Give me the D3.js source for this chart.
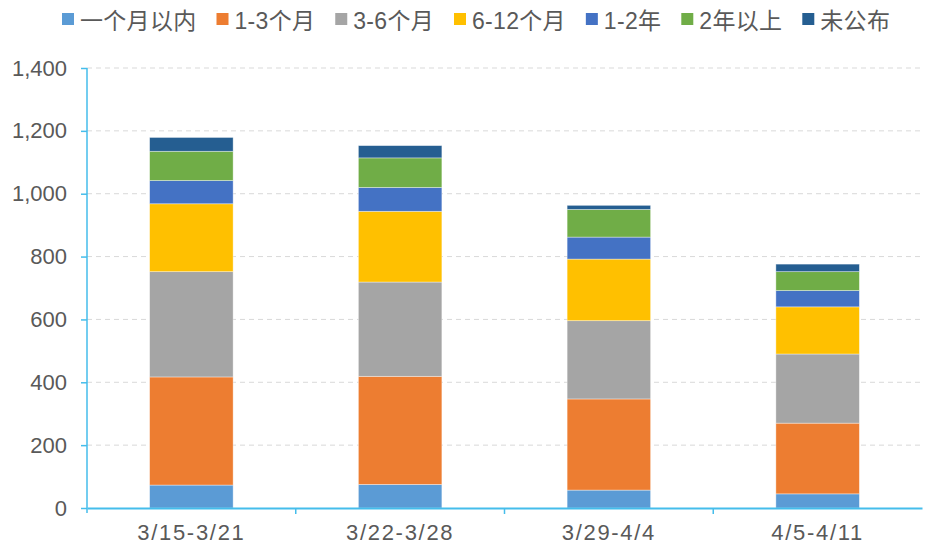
<!DOCTYPE html>
<html>
<head>
<meta charset="utf-8">
<script src="https://d3js.org/d3.v7.min.js"></script>
<style>
  body { margin: 0; background: #fff; }
  svg { display: block; }
  text { font-family: "Liberation Sans", Arial, "Noto Sans CJK SC", sans-serif; fill: #595959; }
</style>
</head>
<body>
<svg id="chart" width="926" height="546"></svg>
<script>
// categories (weeks)
const weeks = ['3/15-3/21', '3/22-3/28', '3/29-4/4', '4/5-4/11'];
// series names, bottom to top
const seriesNames = ['一个月以内', '1-3个月', '3-6个月', '6-12个月', '1-2年', '2年以上', '未公布'];
const seriesColors = ['#5B9BD5', '#ED7D31', '#A5A5A5', '#FFC000', '#4472C4', '#70AD47', '#255E91'];
// values per series, one per week
const within1m = [73, 75, 57, 45];
const m1to3 = [344, 344, 290, 225];
const m3to6 = [335, 300, 249, 220];
const m6to12 = [216, 225, 196, 150];
const y1to2 = [74, 76, 70, 52];
const over2y = [93, 94, 88, 60];
const unknown = [44, 39, 13, 24];
const yTicks = [0, 200, 400, 600, 800, 1000, 1200, 1400];

const seriesValues = [within1m, m1to3, m3to6, m6to12, y1to2, over2y, unknown];
const rows = weeks.map((w, i) => {
  const r = { week: w };
  seriesNames.forEach((s, j) => { r[s] = seriesValues[j][i]; });
  return r;
});

const svg = d3.select('#chart');
const margin = { top: 68, right: 4, bottom: 38, left: 87 };
const innerWidth = 926 - margin.left - margin.right;
const innerHeight = 546 - margin.top - margin.bottom;

const xScale = d3.scaleBand().domain(weeks).range([0, innerWidth]).paddingInner(0.6).paddingOuter(0.3);
const yScale = d3.scaleLinear().domain([0, 1400]).range([innerHeight, 0]);

const g = svg.append('g').attr('transform', `translate(${margin.left},${margin.top})`);

// gridlines
g.append('g').selectAll('line')
  .data(yTicks.filter(d => d > 0))
  .enter().append('line')
  .attr('x1', 0).attr('x2', innerWidth)
  .attr('y1', d => yScale(d)).attr('y2', d => yScale(d))
  .attr('stroke', '#D9D9D9').attr('stroke-width', 1)
  .attr('stroke-dasharray', '5,4');

// stacked bars
const stacked = d3.stack().keys(seriesNames)(rows);
g.selectAll('g.series')
  .data(stacked)
  .enter().append('g')
  .attr('class', 'series')
  .attr('fill', (d, i) => seriesColors[i])
  .selectAll('rect')
  .data(d => d)
  .enter().append('rect')
  .attr('x', d => xScale(d.data.week))
  .attr('width', xScale.bandwidth())
  .attr('y', d => yScale(d[1]))
  .attr('height', d => yScale(d[0]) - yScale(d[1]))
  .attr('stroke', '#fff').attr('stroke-opacity', 0.5).attr('stroke-width', 0.75);

// y axis
const axisColor = '#45BDEB';
const yAxis = g.append('g').call(
  d3.axisLeft(yScale).tickValues(yTicks).tickSize(6).tickPadding(14)
    .tickFormat(d3.format(','))
);
yAxis.select('.domain').attr('stroke', axisColor).attr('stroke-width', 1.5)
  .attr('d', `M0,0V${innerHeight + 5}`);
yAxis.selectAll('.tick line').attr('stroke', axisColor).attr('stroke-width', 1.5);
yAxis.selectAll('.tick text').attr('font-size', '22px').attr('fill', '#595959')
  .style('font-family', '"Liberation Sans", Arial, sans-serif');

// x axis
const xAxis = g.append('g').attr('transform', `translate(0,${innerHeight})`)
  .call(d3.axisBottom(xScale).tickSize(0));
xAxis.select('.domain').attr('stroke', axisColor).attr('stroke-width', 2);
xAxis.selectAll('.tick text').attr('font-size', '22px').attr('fill', '#595959')
  .attr('y', 32).attr('dy', 0)
  .style('letter-spacing', '1.7px')
  .style('font-family', '"Liberation Sans", Arial, sans-serif');
// boundary ticks between categories
const gap = (xScale.step() - xScale.bandwidth()) / 2;
g.append('g').selectAll('line')
  .data(weeks.slice(1))
  .enter().append('line')
  .attr('x1', d => xScale(d) - gap)
  .attr('x2', d => xScale(d) - gap)
  .attr('y1', innerHeight).attr('y2', innerHeight + 6)
  .attr('stroke', axisColor).attr('stroke-width', 1.5);

// legend
const legend = svg.append('g').attr('class', 'legend');
let lx = 62;
seriesNames.forEach((name, i) => {
  const item = legend.append('g').attr('transform', `translate(${lx},0)`);
  item.append('rect').attr('x', 0).attr('y', 13).attr('width', 12).attr('height', 12)
    .attr('fill', seriesColors[i]);
  const t = item.append('text').attr('x', 18).attr('y', 28.5)
    .attr('font-size', '23px').style('letter-spacing', '0.3px').text(name);
  lx += 18 + t.node().getComputedTextLength() + 20;
});
</script>
</body>
</html>
